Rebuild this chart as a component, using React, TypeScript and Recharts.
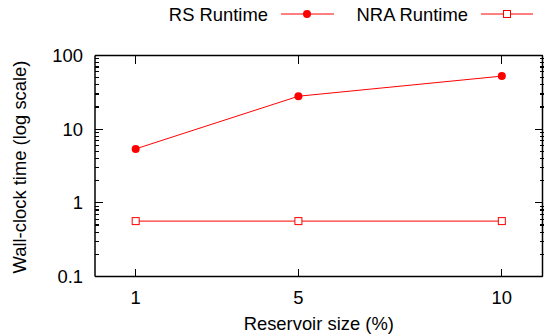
import React from "react";
import { LineChart, Line, XAxis, YAxis } from "recharts";

const reservoirSizes = [1, 5, 10];
const rsRuntime = [5.4, 28, 52.5];
const nraRuntime = [0.565, 0.565, 0.565];
const xTicks = [1, 5, 10];
const yMajorTicks = [0.1, 1, 10, 100];
const yMajorLabels = ["0.1", "1", "10", "100"];
const minorMultipliers = [2, 3, 4, 5, 6, 7, 8, 9];

const data = reservoirSizes.map((x, i) => ({ x, rs: rsRuntime[i], nra: nraRuntime[i] }));

const yMinorTicks: number[] = [];
yMajorTicks.slice(0, -1).forEach((m) => {
  minorMultipliers.forEach((k) => yMinorTicks.push(parseFloat((m * k).toPrecision(6))));
});

const FONT = "Arial, 'Liberation Sans', Helvetica, sans-serif";
const FS = 18.4;
const RED = "#ff0000";

const yLabel = (v: number) => {
  const i = yMajorTicks.findIndex((m) => Math.abs(Math.log10(v) - Math.log10(m)) < 1e-9);
  return i >= 0 ? yMajorLabels[i] : "";
};
const blank = () => "";

const SquareDot = (props: any) => {
  const { cx, cy } = props;
  if (cx == null || cy == null) return null;
  return <rect x={cx - 3.5} y={cy - 3.5} width={7} height={7} fill="#fff" stroke={RED} strokeWidth={1} />;
};

const XLabel = (props: any) => {
  const vb = props.viewBox || {};
  return (
    <text x={vb.x + vb.width / 2} y={vb.y + 53.5} textAnchor="middle" fontSize={FS} fontFamily={FONT} fill="#000">
      Reservoir size (%)
    </text>
  );
};

const YLabel = (props: any) => {
  const vb = props.viewBox || {};
  const cx = 19;
  const cy = vb.y + vb.height / 2 + 1;
  return (
    <text
      x={cx}
      y={cy}
      dy="0.36em"
      textAnchor="middle"
      fontSize={FS}
      fontFamily={FONT}
      fill="#000"
      transform={`rotate(-90 ${cx} ${cy})`}
    >
      Wall-clock time (log scale)
    </text>
  );
};

const axisLine = { stroke: "#000", strokeWidth: 1.5 };
const tickLine = { stroke: "#000", strokeWidth: 1.2, shapeRendering: "crispEdges" };
const tickText = { fontSize: FS, fontFamily: FONT, fill: "#000" };

export default function App() {
  return (
    <div style={{ position: "absolute", left: 0, top: 0, width: 544, height: 334, background: "#fff" }}>
      <svg width={544} height={30} style={{ position: "absolute", left: 0, top: 0 }}>
        <text x={268} y={20.5} textAnchor="end" fontSize={FS} fontFamily={FONT} fill="#000">RS Runtime</text>
        <line x1={281} x2={334} y1={14} y2={14} stroke={RED} strokeWidth={1} />
        <circle cx={307} cy={14} r={4} fill={RED} />
        <text x={468} y={20.5} textAnchor="end" fontSize={FS} fontFamily={FONT} fill="#000">NRA Runtime</text>
        <line x1={481} x2={533} y1={14} y2={14} stroke={RED} strokeWidth={1} />
        <rect x={503.5} y={10.5} width={7} height={7} fill="#fff" stroke={RED} strokeWidth={1} />
      </svg>
      <LineChart
        width={544}
        height={334}
        data={data}
        margin={{ top: 54.5, right: 0, bottom: 7.5, left: 15 }}
        style={{ position: "absolute", left: 0, top: 0 }}
      >
        <XAxis
          xAxisId="bottom"
          dataKey="x"
          type="number"
          domain={[0, 11]}
          ticks={xTicks}
          interval={0}
          height={50}
          tickSize={-8}
          tickMargin={22}
          tickLine={tickLine}
          axisLine={axisLine}
          tick={tickText}
          label={<XLabel />}
        />
        <XAxis
          xAxisId="top"
          orientation="top"
          dataKey="x"
          type="number"
          domain={[0, 11]}
          ticks={xTicks}
          interval={0}
          height={1}
          tickSize={-8}
          tickMargin={0}
          tickLine={tickLine}
          axisLine={axisLine}
          tickFormatter={blank}
          tick={tickText}
        />
        <YAxis
          yAxisId="leftMinor"
          type="number"
          scale="log"
          domain={[0.1, 100]}
          allowDataOverflow
          ticks={yMinorTicks}
          interval={0}
          mirror
          width={1}
          tickSize={4}
          tickMargin={0}
          tickLine={tickLine}
          axisLine={false}
          tickFormatter={blank}
          tick={tickText}
        />
        <YAxis
          yAxisId="left"
          type="number"
          scale="log"
          domain={[0.1, 100]}
          allowDataOverflow
          ticks={yMajorTicks}
          interval={0}
          width={80}
          tickSize={-8}
          tickMargin={20}
          tickLine={tickLine}
          axisLine={axisLine}
          tickFormatter={yLabel}
          tick={tickText}
          label={<YLabel />}
        />
        <YAxis
          yAxisId="rightMinor"
          orientation="right"
          type="number"
          scale="log"
          domain={[0.1, 100]}
          allowDataOverflow
          ticks={yMinorTicks}
          interval={0}
          width={0.5}
          tickSize={-4}
          tickMargin={0}
          tickLine={tickLine}
          axisLine={false}
          tickFormatter={blank}
          tick={tickText}
        />
        <YAxis
          yAxisId="right"
          orientation="right"
          type="number"
          scale="log"
          domain={[0.1, 100]}
          allowDataOverflow
          ticks={yMajorTicks}
          interval={0}
          width={1}
          tickSize={-8}
          tickMargin={0}
          tickLine={tickLine}
          axisLine={axisLine}
          tickFormatter={blank}
          tick={tickText}
        />
        <Line
          xAxisId="bottom"
          yAxisId="left"
          dataKey="rs"
          stroke={RED}
          strokeWidth={1}
          dot={{ r: 4, fill: RED, stroke: RED, strokeWidth: 0 }}
          isAnimationActive={false}
        />
        <Line
          xAxisId="bottom"
          yAxisId="left"
          dataKey="nra"
          stroke={RED}
          strokeWidth={1}
          dot={<SquareDot />}
          isAnimationActive={false}
        />
      </LineChart>
    </div>
  );
}
